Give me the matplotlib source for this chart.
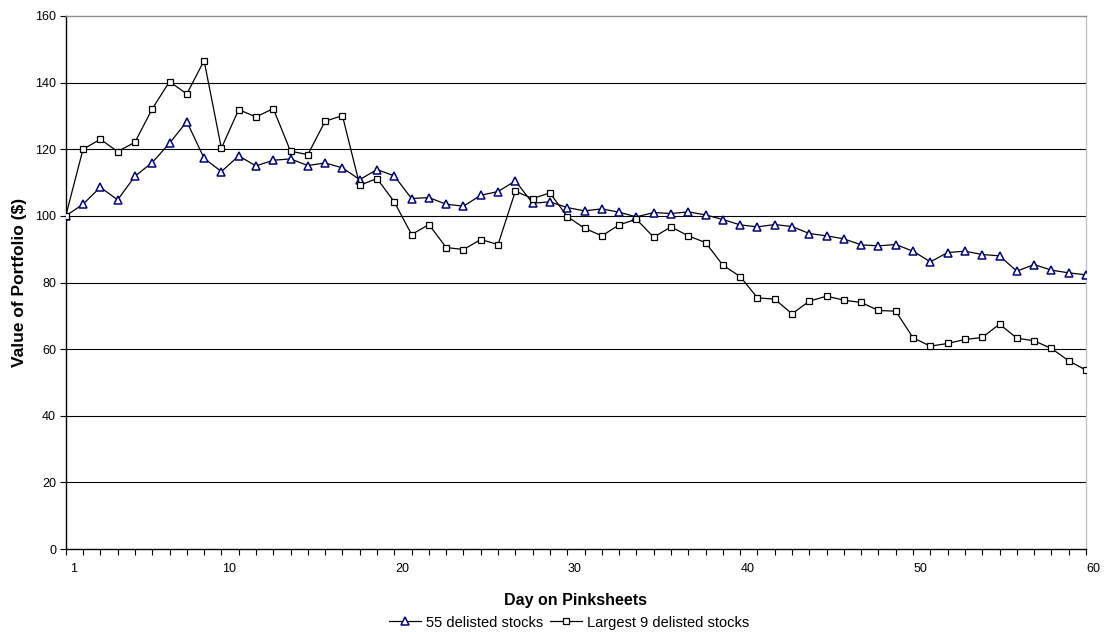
import numpy as np
import matplotlib.pyplot as plt
from matplotlib.lines import Line2D

plt.rcParams['font.family'] = ['Liberation Sans', 'DejaVu Sans']

# portfolio value per trading day on the pinksheets
days = np.arange(1, 61)

all_55 = [100, 103.5, 108.6, 104.8, 111.9, 116, 121.8, 128.3, 117.3, 113.3,
          118, 115, 116.7, 117.1, 115.1, 115.9, 114.4, 110.9, 113.9, 112,
          105.2, 105.5, 103.5, 102.9, 106.2, 107.3, 110.5, 103.8, 104.2, 102.5,
          101.5, 102.1, 101.1, 99.7, 101, 100.7, 101.2, 100.3, 98.9, 97.3,
          96.7, 97.4, 96.8, 94.7, 94, 93.1, 91.3, 91, 91.4, 89.4,
          86.2, 89, 89.4, 88.4, 88, 83.4, 85.4, 83.7, 82.9, 82.3]

largest_9 = [100, 120, 123, 119.3, 122.1, 132.1, 140.3, 136.6, 146.6, 120.3,
             131.9, 129.7, 132.2, 119.4, 118.4, 128.4, 130.1, 109.2, 111.2, 104.2,
             94.4, 97.4, 90.5, 89.9, 92.9, 91.4, 107.4, 105.2, 106.9, 99.8,
             96.3, 94, 97.3, 99, 93.6, 96.7, 94, 92, 85.2, 81.8,
             75.4, 75, 70.6, 74.4, 75.9, 74.7, 74, 71.6, 71.4, 63.4,
             60.9, 61.7, 62.9, 63.5, 67.5, 63.3, 62.5, 60.2, 56.5, 53.7]

labels = ['55 delisted stocks', 'Largest 9 delisted stocks']
label_days = [1, 10, 20, 30, 40, 50, 60]

fig = plt.figure(figsize=(11.05, 6.32), dpi=100)
ax = fig.add_axes([0.0595, 0.1313, 0.9233, 0.8434])

tri_style = dict(color='black', lw=0.9, marker='^', ms=6, mfc='white',
                 mec='#000080', mew=1.1)
sq_style = dict(color='black', lw=0.9, marker='s', ms=5, mfc='white',
                mec='black', mew=0.9)

ax.plot(days, all_55, zorder=3, **tri_style)
ax.plot(days, largest_9, zorder=3, **sq_style)

ax.set_xlim(1, 60)
ax.set_ylim(0, 160)
ax.set_yticks(range(0, 161, 20))
for v in range(20, 160, 20):
    ax.axhline(v, color='black', lw=0.8, zorder=1)

# a tick for every day; the day numbers sit a little right of their tick
ax.set_xticks(days)
ax.set_xticklabels([])
for d in label_days:
    ax.annotate(str(d), (d, 0), xytext=(5.5, -14.5), textcoords='offset points',
                ha='center', va='center', fontsize=9, annotation_clip=False)

ax.tick_params(axis='both', direction='out', length=4, width=0.8,
               labelsize=9, color='black')
ax.tick_params(axis='y', pad=3)

ax.spines['left'].set_color('black')
ax.spines['bottom'].set_color('black')
ax.spines['top'].set_color('#8c8c8c')
ax.spines['right'].set_color('#c4c4c4')
for s in ax.spines.values():
    s.set_linewidth(1.0)

ax.set_xlabel('Day on Pinksheets', fontsize=11.5, fontweight='bold')
ax.xaxis.label.set_va('center')
ax.xaxis.set_label_coords(0.5, -0.096)
ax.set_ylabel('Value of Portfolio ($)', fontsize=12.5, fontweight='bold')
ax.yaxis.label.set_va('center')
ax.yaxis.set_label_coords(-0.045, 0.5)

handles = [Line2D([], [], **tri_style), Line2D([], [], **sq_style)]
fig.legend(handles, labels, loc='center', bbox_to_anchor=(0.515, 0.015),
           ncol=2, frameon=False, fontsize=10.5, handlelength=2.2,
           handletextpad=0.3, columnspacing=0.5, borderpad=0)

fig.savefig('out.png', dpi=100)
